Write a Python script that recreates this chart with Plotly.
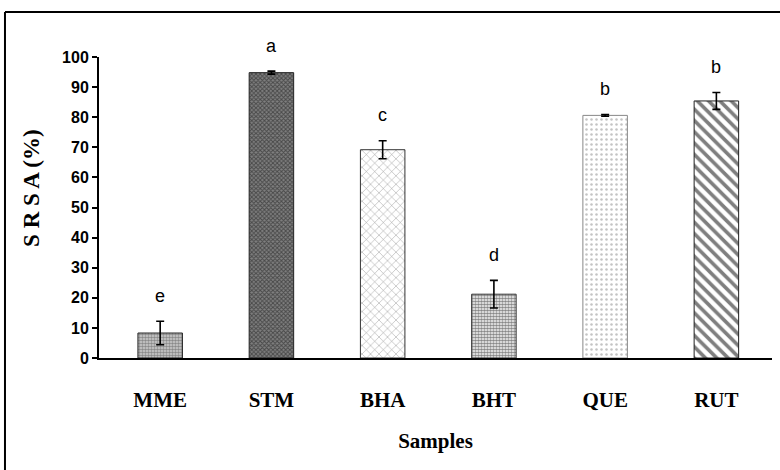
import plotly.graph_objects as go

categories = ["MME", "STM", "BHA", "BHT", "QUE", "RUT"]
srsa = [8.3, 94.8, 69.2, 21.2, 80.6, 85.4]
errors = [3.9, 0.5, 3.0, 4.6, 0.3, 2.8]
letters = ["e", "a", "c", "d", "b", "b"]

patterns = [
    dict(shape=".", fgcolor="#444444", bgcolor="#d0d0d0", size=3, solidity=0.55),
    dict(shape="x", fgcolor="#111111", bgcolor="#808080", size=3, solidity=0.55),
    dict(shape="x", fgcolor="#222222", bgcolor="white", size=6, solidity=0.15),
    dict(shape=".", fgcolor="#111111", bgcolor="white", size=3, solidity=0.65),
    dict(shape=".", fgcolor="#888888", bgcolor="white", size=5, solidity=0.2),
    dict(shape="\\", fgcolor="#000000", bgcolor="white", size=8, solidity=0.45),
]
outline = ["#222", "#222", "#333", "#333", "#888", "#222"]

YMAX = 100

fig = go.Figure()
for i, c in enumerate(categories):
    fig.add_trace(go.Bar(
        x=[c], y=[srsa[i]], width=0.4,
        error_y=dict(type="data", array=[errors[i]], visible=True,
                     color="black", thickness=1.6, width=4),
        marker=dict(color=patterns[i]["bgcolor"], pattern=patterns[i],
                    line=dict(color=outline[i], width=1)),
        showlegend=False,
    ))

for i, c in enumerate(categories):
    fig.add_annotation(x=c, xref="x", yref="paper",
                       y=(srsa[i] + errors[i] + 8.5) / YMAX, text=letters[i],
                       showarrow=False, yanchor="middle", xanchor="center",
                       font=dict(family="Liberation Sans", size=18, color="black"))

fig.add_annotation(xref="paper", yref="paper", x=-0.0996, y=0.565,
                   xanchor="center", yanchor="middle",
                   text="S R S A (%)", textangle=-90, showarrow=False,
                   font=dict(family="Liberation Serif", size=23, color="black", weight="bold"))

# outer frame (only left and top edges fall inside the picture)
fig.add_shape(type="line", xref="paper", yref="paper",
              x0=-0.1397, x1=-0.1397, y0=-0.6, y1=1.1495,
              line=dict(color="black", width=2))
fig.add_shape(type="line", xref="paper", yref="paper",
              x0=-0.1397, x1=1.3, y0=1.1495, y1=1.1495,
              line=dict(color="black", width=2))

fig.update_layout(
    width=780, height=470,
    margin=dict(l=99, r=8, t=57, b=112),
    paper_bgcolor="white", plot_bgcolor="white",
    xaxis=dict(
        range=[-0.55, 5.5], showline=True, linecolor="black", linewidth=2,
        ticks="", ticklabelstandoff=22, showgrid=False,
        tickfont=dict(family="Liberation Serif", size=21, color="black", weight="bold"),
        title=dict(text="Samples", standoff=22,
                   font=dict(family="Liberation Serif", size=21, color="black", weight="bold")),
    ),
    yaxis=dict(
        range=[0, YMAX], tickvals=list(range(0, 101, 10)),
        showline=True, linecolor="black", linewidth=2,
        ticks="outside", ticklen=5, tickwidth=2, tickcolor="black",
        showgrid=False, zeroline=False,
        tickfont=dict(family="Liberation Sans", size=16, color="black", weight="bold"),
    ),
)

fig.write_html("out.html")
